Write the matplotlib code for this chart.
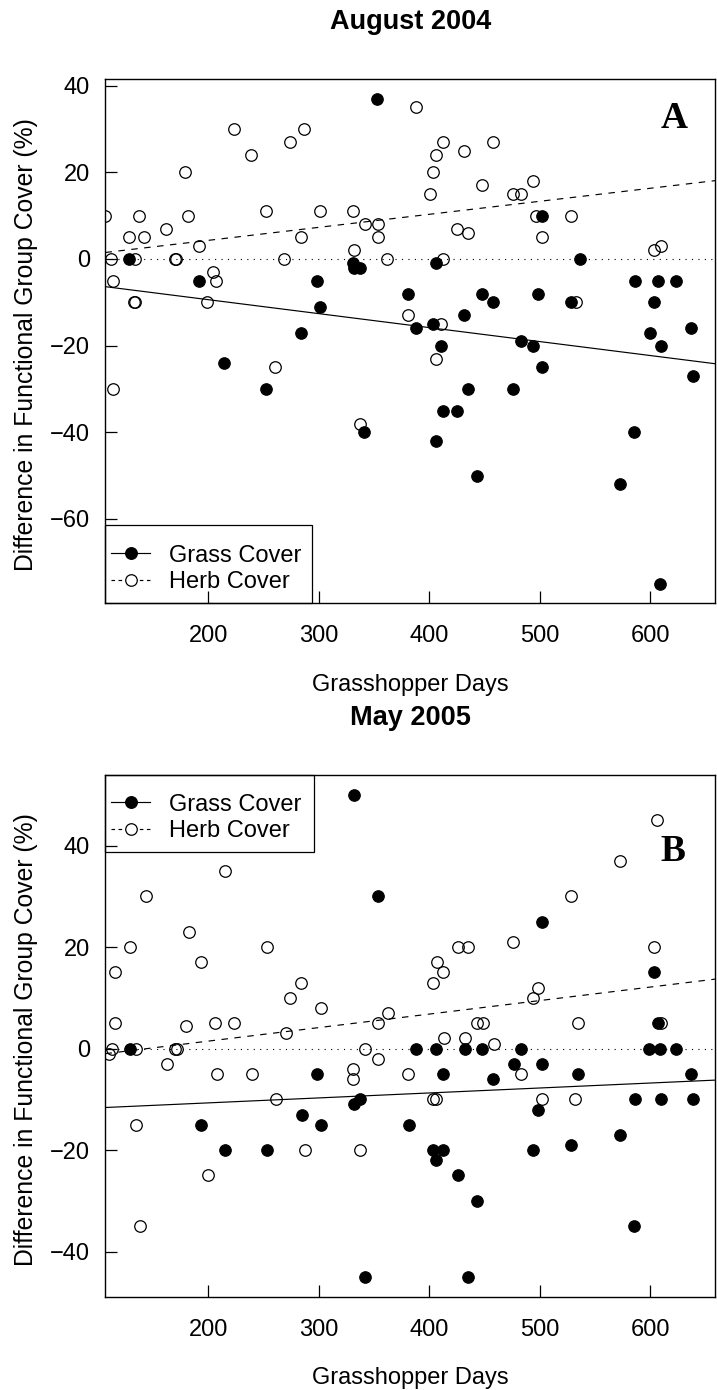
import matplotlib
matplotlib.use("Agg")
import matplotlib.pyplot as plt
from matplotlib.lines import Line2D
from matplotlib.patches import Rectangle

plt.rcParams['font.family'] = ['Liberation Sans', 'DejaVu Sans']

# ---- August 2004 (panel A) ----
aug_grass_x = [128, 192, 214, 252, 284, 298, 301, 331, 332, 337, 341, 353, 381, 388,
               403, 406, 406, 411, 412, 425, 431, 435, 443, 448, 458, 476, 483, 494,
               498, 502, 502, 528, 536, 573, 585, 586, 600, 603, 607, 610, 609, 623,
               637, 639]
aug_grass_y = [0, -5, -24, -30, -17, -5, -11, -1, -2, -2, -40, 37, -8, -16,
               -15, -1, -42, -20, -35, -35, -13, -30, -50, -8, -10, -30, -19, -20,
               -8, -25, 10, -10, 0, -52, -40, -5, -17, -10, -5, -20, -75, -5,
               -16, -27]
aug_herb_x = [107, 112, 114, 114, 128, 133, 134, 134, 137, 142, 162, 170, 171, 179,
              182, 192, 199, 204, 207, 223, 239, 252, 260, 269, 274, 284, 287, 301,
              331, 332, 337, 342, 354, 354, 362, 381, 388, 401, 403, 406, 406, 411,
              412, 412, 425, 431, 435, 448, 458, 476, 483, 494, 497, 502, 528, 533,
              603, 610]
aug_herb_y = [10, 0, -5, -30, 5, -10, -10, 0, 10, 5, 7, 0, 0, 20,
              10, 3, -10, -3, -5, 30, 24, 11, -25, 0, 27, 5, 30, 11,
              11, 2, -38, 8, 8, 5, 0, -13, 35, 15, 20, 24, -23, -15,
              27, 0, 7, 25, 6, 17, 27, 15, 15, 18, 10, 5, 10, -10,
              2, 3]
# fitted lines: (intercept, slope)
aug_grass_fit = (-2.95, -0.03225)
aug_herb_fit = (-1.72, 0.03007)

# ---- May 2005 (panel B) ----
may_grass_x = [129, 193, 215, 253, 285, 298, 302, 332, 332, 337, 342, 354, 382, 388,
               403, 406, 406, 412, 412, 426, 432, 435, 443, 448, 458, 477, 483, 494,
               498, 502, 502, 528, 535, 573, 585, 586, 599, 603, 607, 609, 610, 623,
               637, 639]
may_grass_y = [0, -15, -20, -20, -13, -5, -15, 50, -11, -10, -45, 30, -15, 0,
               -20, 0, -22, -20, -5, -25, 0, -45, -30, 0, -6, -3, 0, -20,
               -12, -3, 25, -19, -5, -17, -35, -10, 0, 15, 5, 0, -10, 0,
               -5, -10]
may_herb_x = [110, 113, 116, 116, 129, 135, 135, 138, 144, 163, 170, 172, 180, 183,
              193, 200, 206, 208, 215, 223, 240, 253, 261, 270, 274, 284, 288, 302,
              331, 331, 337, 342, 354, 354, 363, 381, 403, 403, 406, 407, 412, 413,
              426, 432, 435, 443, 449, 459, 476, 483, 494, 498, 502, 528, 532, 535,
              573, 603, 606, 610]
may_herb_y = [-1, 0, 15, 5, 20, 0, -15, -35, 30, -3, 0, 0, 4.5, 23,
              17, -25, 5, -5, 35, 5, -5, 20, -10, 3, 10, 13, -20, 8,
              -4, -6, -20, 0, 5, -2, 7, -5, 13, -10, -10, 17, 15, 2,
              20, 2, 20, 5, 5, 1, 21, -5, 10, 12, -10, 30, -10, 5,
              37, 20, 45, 5]
may_grass_fit = (-12.65, 0.00978)
may_herb_fit = (-3.85, 0.02663)

x_ticks = [200, 300, 400, 500, 600]

FS = 17
DASH = (0, (5.5, 5.5))


def panel(ax, gx, gy, hx, hy, gfit, hfit, ylim, yticks, letter, letter_pos,
          leg_loc, leg_anchor, leg_box):
    ax.plot(gx, gy, 'o', ms=8.3, mfc='black', mec='black', mew=0.8, ls='none')
    ax.plot(hx, hy, 'o', ms=8.3, mfc='none', mec='black', mew=0.9, ls='none')
    ax.axline((0, gfit[0]), slope=gfit[1], color='black', lw=0.85)
    ax.axline((0, hfit[0]), slope=hfit[1], color='black', lw=0.85, ls=DASH)
    ax.axhline(0, color='black', lw=0.8, ls=(0, (1, 4.8)))

    ax.set_xlim(107, 659)
    ax.set_ylim(*ylim)
    ax.set_xticks(x_ticks)
    ax.set_yticks(yticks)
    ax.tick_params(direction='in', length=8.6, width=0.9, labelsize=FS)
    ax.tick_params(axis='x', pad=15.3)
    ax.tick_params(axis='y', pad=11.2)
    for s in ax.spines.values():
        s.set_linewidth(1.0)

    ax.text(letter_pos[0], letter_pos[1], letter, transform=ax.transAxes,
            ha='center', va='center', fontsize=27, fontweight='bold',
            family=['Liberation Serif', 'DejaVu Serif'])

    handles = [
        Line2D([], [], color='black', lw=0.85, marker='o', ms=8.3, mfc='black', mec='black'),
        Line2D([], [], color='black', lw=0.85, ls=(0, (3, 3)), marker='o', ms=8.3,
               mfc='white', mec='black', mew=0.9),
    ]
    ax.legend(handles, ['Grass Cover', 'Herb Cover'], loc=leg_loc,
              bbox_to_anchor=leg_anchor, borderaxespad=0, borderpad=0.25,
              labelspacing=0.18, handlelength=1.63, handletextpad=0.83,
              fontsize=FS, frameon=False)
    # R-style legend box (wider vertical padding than matplotlib allows)
    ax.add_patch(Rectangle(leg_box[0], leg_box[1], leg_box[2], transform=ax.transAxes,
                           fill=False, ec='black', lw=0.9, clip_on=False, zorder=5))


fig = plt.figure(figsize=(7.17, 13.9), dpi=100)
ax1 = fig.add_axes([0.1471, 0.5660, 0.8508, 0.3770])
ax2 = fig.add_axes([0.1471, 0.0667, 0.8508, 0.3757])

panel(ax1, aug_grass_x, aug_grass_y, aug_herb_x, aug_herb_y, aug_grass_fit, aug_herb_fit,
      (-79.5, 41.5), [-60, -40, -20, 0, 20, 40], 'A', (0.9325, 0.9256),
      'lower left', (0, 0.0086), ((0, 0), 0.339, 0.1494))
panel(ax2, may_grass_x, may_grass_y, may_herb_x, may_herb_y, may_grass_fit, may_herb_fit,
      (-49, 53.9), [-40, -20, 0, 20, 40], 'B', (0.930, 0.853),
      'upper left', (0, 1 - 0.0245), ((0, 0.852), 0.342, 0.148))

cx = 0.5725
fig.text(cx, 0.9842, 'August 2004', ha='center', va='center', fontsize=19.5, fontweight='bold')
fig.text(cx, 0.4835, 'May 2005', ha='center', va='center', fontsize=19.5, fontweight='bold')
fig.text(cx, 0.5072, 'Grasshopper Days', ha='center', va='center', fontsize=FS)
fig.text(cx, 0.0084, 'Grasshopper Days', ha='center', va='center', fontsize=FS)
fig.text(0.036, 0.7518, 'Difference in Functional Group Cover (%)', rotation=90,
         ha='center', va='center', fontsize=17.8)
fig.text(0.036, 0.2518, 'Difference in Functional Group Cover (%)', rotation=90,
         ha='center', va='center', fontsize=17.8)

fig.savefig('out.png', dpi=100)
